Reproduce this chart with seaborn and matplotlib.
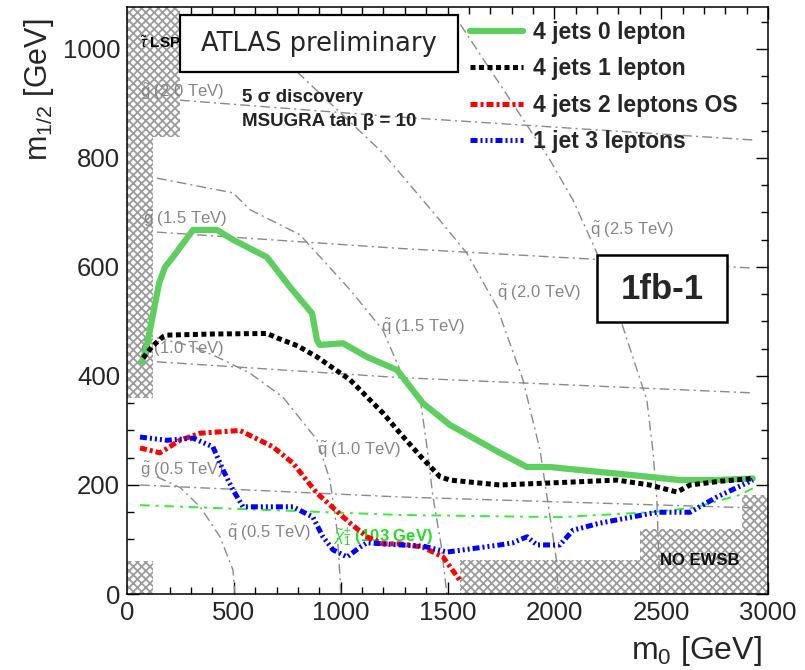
import matplotlib
matplotlib.use("Agg")
import matplotlib.pyplot as plt
from matplotlib.ticker import MultipleLocator
from matplotlib.patches import Rectangle
import seaborn as sns

# ---------------- data ----------------
# 5 sigma discovery reach curves
jets4_lep0_m0 = [70, 90, 117, 150, 178, 215, 309, 421, 496, 655, 763, 866, 889, 903, 1011,
                 1123, 1264, 1385, 1512, 1745, 1872, 1979, 2106, 2368, 2588, 2751, 2929]
jets4_lep0_m12 = [426, 450, 503, 570, 600, 618, 668, 668, 650, 618, 563, 515, 466, 457, 460,
                  435, 411, 350, 310, 259, 233, 233, 228, 218, 209, 209, 212]

jets4_lep1_m0 = [75, 120, 168, 187, 400, 655, 702, 800, 889, 1044, 1198, 1278, 1380, 1465,
                 1512, 1745, 2059, 2293, 2447, 2574, 2635, 2780, 2929]
jets4_lep1_m12 = [433, 455, 472, 475, 477, 478, 470, 455, 435, 393, 332, 295, 250, 215,
                  209, 200, 205, 209, 200, 187, 200, 207, 212]

jets4_lep2_m0 = [61, 154, 248, 342, 529, 683, 777, 889, 1044, 1123, 1200, 1278, 1385, 1479, 1558]
jets4_lep2_m12 = [268, 259, 282, 295, 300, 270, 240, 185, 130, 105, 92, 92, 86, 68, 25]

jet1_lep3_m0 = [61, 187, 309, 402, 449, 496, 543, 777, 870, 917, 964, 1030, 1091, 1123, 1278,
                1385, 1498, 1745, 1806, 1872, 1919, 2026, 2087, 2213, 2480, 2635, 2761, 2929]
jet1_lep3_m12 = [288, 282, 286, 270, 228, 191, 160, 160, 141, 105, 81, 68, 86, 94, 90,
                 88, 77, 90, 94, 105, 90, 90, 117, 130, 150, 150, 178, 209]

series_labels = ["4 jets 0 lepton", "4 jets 1 lepton", "4 jets 2 leptons OS", "1 jet 3 leptons"]

# chargino 103 GeV contour
chargino_m0 = [61, 1278, 2026, 2447, 2649, 2869, 2929]
chargino_m12 = [163, 145, 141, 150, 158, 182, 194]

# gluino iso-mass contours
gl05_m0 = [61, 1278, 2929];  gl05_m12 = [200, 178, 158]
gl10_m0 = [140, 1278, 2929]; gl10_m12 = [426, 397, 369]
gl15_m0 = [140, 1278, 2929]; gl15_m12 = [664, 634, 598]
gl20_m0 = [248, 1278, 2929]; gl20_m12 = [906, 875, 833]

# squark iso-mass contours
sq05_m0 = [140, 250, 342, 435, 496, 505]
sq05_m12 = [215, 195, 160, 105, 44, 0]
sq10_m0 = [140, 300, 421, 576, 730, 889, 950, 983, 997, 1000]
sq10_m12 = [470, 455, 435, 405, 361, 283, 209, 117, 31, 0]
sq15_m0 = [140, 496, 576, 810, 1044, 1198, 1278, 1371, 1404, 1432, 1470, 1497]
sq15_m12 = [763, 736, 705, 659, 558, 484, 411, 361, 270, 178, 90, 0]
sq20_m0 = [796, 1198, 1451, 1591, 1731, 1853, 1933, 2012, 2017]
sq20_m12 = [958, 809, 692, 625, 527, 393, 264, 57, 0]
sq25_m0 = [1560, 1980, 2087, 2199, 2321, 2433, 2461, 2480, 2494]
sq25_m12 = [1045, 796, 723, 626, 490, 356, 264, 172, 0]

contour_labels = [r"$\tilde{\mathrm{g}}$ (2.0 TeV)", r"$\tilde{\mathrm{g}}$ (1.5 TeV)",
                  r"$\tilde{\mathrm{g}}$ (1.0 TeV)", r"$\tilde{\mathrm{g}}$ (0.5 TeV)",
                  r"$\tilde{\mathrm{q}}$ (0.5 TeV)", r"$\tilde{\mathrm{q}}$ (1.0 TeV)",
                  r"$\tilde{\mathrm{q}}$ (1.5 TeV)", r"$\tilde{\mathrm{q}}$ (2.0 TeV)",
                  r"$\tilde{\mathrm{q}}$ (2.5 TeV)"]
contour_label_m0 = [61, 75, 61, 61, 468, 889, 1189, 1732, 2167]
contour_label_m12 = [921, 688, 450, 228, 112, 264, 490, 552, 668]

# excluded regions (rectangles): theory-excluded (left) and no EWSB (bottom right)
thexcl_x0 = [0, 0, 0];    thexcl_x1 = [120, 250, 120]
thexcl_y0 = [360, 838, 0]; thexcl_y1 = [1077, 1077, 60]
noewsb_x0 = [1558, 2400, 2878]; noewsb_x1 = [3000, 3000, 3000]
noewsb_y0 = [0, 62, 119];       noewsb_y1 = [62, 119, 182]

# ---------------- style ----------------
sns.set_style("ticks")
plt.rcParams['font.family'] = ['Liberation Sans', 'DejaVu Sans']
plt.rcParams['mathtext.fontset'] = 'custom'
plt.rcParams['mathtext.rm'] = 'Liberation Sans'
plt.rcParams['mathtext.it'] = 'Liberation Sans:italic'
plt.rcParams['mathtext.bf'] = 'Liberation Sans:bold'
plt.rcParams['hatch.linewidth'] = 1.3

W, H = 805, 670
fig = plt.figure(figsize=(W / 100, H / 100), dpi=100)
ax = fig.add_axes([127 / W, 1 - 594 / H, (768 - 127) / W, (594 - 7) / H])

# hatched regions
for x0, x1, y0, y1 in zip(thexcl_x0 + noewsb_x0, thexcl_x1 + noewsb_x1,
                          thexcl_y0 + noewsb_y0, thexcl_y1 + noewsb_y1):
    ax.fill_between([x0, x1], [y0, y0], [y1, y1], facecolor='#ffffff',
                    edgecolor='#9c9c9c', hatch='xxxx', linewidth=0, zorder=1)

# gray iso-mass contours
gray_ls = (0, (7, 3, 1.5, 3))
for xs, ys in [(gl05_m0, gl05_m12), (gl10_m0, gl10_m12), (gl15_m0, gl15_m12), (gl20_m0, gl20_m12),
               (sq05_m0, sq05_m12), (sq10_m0, sq10_m12), (sq15_m0, sq15_m12),
               (sq20_m0, sq20_m12), (sq25_m0, sq25_m12)]:
    sns.lineplot(x=xs, y=ys, ax=ax, color='#8a8a8a', lw=1.0, linestyle=gray_ls,
                 sort=False, estimator=None, zorder=2)

for lab, xx, yy in zip(contour_labels, contour_label_m0, contour_label_m12):
    ax.text(xx, yy, lab, color='#858585', fontsize=12, ha='left', va='center', zorder=3)

# chargino contour
sns.lineplot(x=chargino_m0, y=chargino_m12, ax=ax, color='#33ee33', lw=1.4,
             linestyle=(0, (5, 3, 1.5, 3)), sort=False, estimator=None, zorder=3)
ax.text(964, 105, r"$\tilde{\chi}^{\pm}_{1}$ (103 GeV)", color='#22dd22', fontsize=12,
        fontweight='bold', ha='left', va='center', zorder=3)

# discovery curves
sns.lineplot(x=jets4_lep0_m0, y=jets4_lep0_m12, ax=ax, color='#5ecf5e', lw=4.5,
             sort=False, estimator=None, label=series_labels[0], zorder=6)
sns.lineplot(x=jets4_lep1_m0, y=jets4_lep1_m12, ax=ax, color='black', lw=3.6,
             linestyle=(0, (1, 0.7)), sort=False, estimator=None, label=series_labels[1], zorder=6)
sns.lineplot(x=jets4_lep2_m0, y=jets4_lep2_m12, ax=ax, color='#ff0000', lw=3.6,
             linestyle=(0, (1.4, 0.6, 0.6, 0.6)), sort=False, estimator=None,
             label=series_labels[2], zorder=6)
sns.lineplot(x=jet1_lep3_m0, y=jet1_lep3_m12, ax=ax, color='#0000ff', lw=3.6,
             linestyle=(0, (1.4, 0.6, 0.4, 0.6, 0.4, 0.6, 0.4, 0.6)), sort=False, estimator=None,
             label=series_labels[3], zorder=6)

# axes
ax.set_xlim(0, 3000)
ax.set_ylim(0, 1077)
ax.xaxis.set_major_locator(MultipleLocator(500))
ax.xaxis.set_minor_locator(MultipleLocator(100))
ax.yaxis.set_major_locator(MultipleLocator(200))
ax.yaxis.set_minor_locator(MultipleLocator(50))
ax.tick_params(which='both', direction='in', top=True, right=True, width=1.0, color='black')
ax.tick_params(which='major', length=8.5, labelsize=18.5, pad=5)
ax.tick_params(which='minor', length=5)
for s in ax.spines.values():
    s.set_linewidth(1.1)
    s.set_color('black')
    s.set_zorder(10)
ax.set_xlabel("")
ax.set_ylabel("")

fig.text(762 / W, 1 - 651 / H, r"m$_{0}$ [GeV]", fontsize=23, ha='right', va='center')
fig.text(39 / W, 1 - 90 / H, r"m$_{1/2}$ [GeV]", fontsize=22, ha='center', va='center',
         rotation=90)

# legend
handles, labels = ax.get_legend_handles_labels()
leg = ax.legend(handles[:4], labels[:4], loc='upper left', bbox_to_anchor=(470 / W, 1 - 21 / H),
                bbox_transform=fig.transFigure, frameon=False, borderpad=0, borderaxespad=0,
                handlelength=2.3, handletextpad=0.45, labelspacing=0.58,
                prop={'family': 'Liberation Sans', 'weight': 'bold', 'size': 16.5})
leg.set_zorder(12)

# text annotations
ax.text(61, 1011, r"$\tilde{\tau}$ LSP", fontsize=11, fontweight='bold', color='black',
        ha='left', va='center', zorder=3)
fig.text(242 / W, 1 - 97 / H, "5 σ discovery", fontsize=13.5, fontweight='bold',
         color='#222222', ha='left', va='center', zorder=12)
fig.text(242 / W, 1 - 122 / H, "MSUGRA tan β = 10", fontsize=13.5, fontweight='bold',
         color='#222222', ha='left', va='center', zorder=12)
ax.text(2494, 62, "NO EWSB", fontsize=12, fontweight='bold', color='#111111',
        ha='left', va='center', zorder=3)

# boxes
ax.add_patch(Rectangle((180 / W, 1 - 72 / H), (458 - 180) / W, (72 - 15) / H,
                       transform=fig.transFigure, facecolor='white', edgecolor='black',
                       lw=1.6, clip_on=False, zorder=11))
fig.text(319 / W, 1 - 44 / H, "ATLAS preliminary", fontsize=18.5, family='DejaVu Sans',
         ha='center', va='center', zorder=13)
ax.add_patch(Rectangle((597 / W, 1 - 322 / H), (727 - 597) / W, (322 - 255) / H,
                       transform=fig.transFigure, facecolor='white', edgecolor='black',
                       lw=1.8, clip_on=False, zorder=11))
fig.text(662 / W, 1 - 289 / H, "1fb-1", fontsize=25, fontweight='bold',
         ha='center', va='center', zorder=13)

fig.savefig("out.png", dpi=100)
